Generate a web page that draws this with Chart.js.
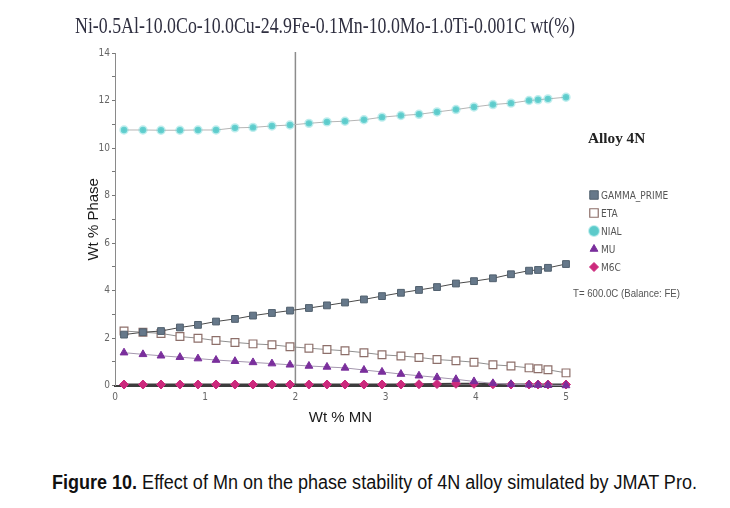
<!DOCTYPE html>
<html>
<head>
<meta charset="utf-8">
<script src="https://cdn.jsdelivr.net/npm/chart.js@4.4.1/dist/chart.umd.min.js"></script>
<style>
  html, body { margin: 0; padding: 0; background: #fff; }
  #page { position: relative; width: 730px; height: 508px; overflow: hidden; background: #fff; }
  #chart { position: absolute; left: 0; top: 0; }
  .fit { position: absolute; white-space: nowrap; transform-origin: 0 50%; line-height: 1; }
  #title { top: 13px; font: 23px 'Liberation Serif', 'Times New Roman', serif; color: #2f2f40; }
  #alloy { top: 130px; font: bold 15px 'Liberation Serif', serif; color: #222; }
  #temp { top: 287px; font: 11px 'Liberation Sans', Arial, sans-serif; color: #555; }
  #caption { top: 471px; font: 20px 'Liberation Sans', Arial, sans-serif; color: #111; }
  #caption b { font-weight: bold; }
</style>
</head>
<body>
<div id="page">
  <canvas id="chart" width="730" height="440"></canvas>
  <div id="title" class="fit">Ni-0.5Al-10.0Co-10.0Cu-24.9Fe-0.1Mn-10.0Mo-1.0Ti-0.001C wt(%)</div>
  <div id="alloy" class="fit">Alloy 4N</div>
  <div id="temp" class="fit">T= 600.0C (Balance: FE)</div>
  <div id="caption" class="fit"><b>Figure 10.</b> Effect of Mn on the phase stability of 4N alloy simulated by JMAT Pro.</div>
</div>
<script>
// Wt % Mn along the x axis
const mnWt = [0.1, 0.31, 0.51, 0.72, 0.92, 1.12, 1.33, 1.53, 1.74, 1.94, 2.15, 2.35, 2.55,
  2.76, 2.96, 3.17, 3.37, 3.57, 3.78, 3.98, 4.19, 4.39, 4.59, 4.69, 4.8, 5.0];

// Wt % of each phase
const gammaPrime = [2.15, 2.25, 2.3, 2.45, 2.56, 2.7, 2.81, 2.95, 3.06, 3.16, 3.27, 3.38, 3.5,
  3.63, 3.77, 3.91, 4.03, 4.15, 4.3, 4.4, 4.52, 4.69, 4.84, 4.87, 4.96, 5.12];
const eta = [2.3, 2.25, 2.2, 2.07, 2.0, 1.9, 1.82, 1.76, 1.72, 1.64, 1.58, 1.52, 1.47,
  1.39, 1.3, 1.25, 1.19, 1.1, 1.05, 0.99, 0.88, 0.83, 0.75, 0.71, 0.67, 0.54];
const nial = [10.76, 10.76, 10.75, 10.75, 10.76, 10.76, 10.85, 10.87, 10.93, 10.97, 11.04, 11.1, 11.13,
  11.19, 11.3, 11.37, 11.42, 11.52, 11.62, 11.73, 11.83, 11.89, 12.0, 12.03, 12.07, 12.14];
const mu = [1.39, 1.32, 1.26, 1.2, 1.14, 1.08, 1.03, 0.98, 0.93, 0.88, 0.83, 0.79, 0.75,
  0.66, 0.58, 0.49, 0.42, 0.35, 0.27, 0.18, 0.1, 0.06, 0.04, 0.03, 0.02, 0.01];
const m6c = [0.05, 0.05, 0.05, 0.05, 0.05, 0.05, 0.05, 0.05, 0.05, 0.05, 0.05, 0.05, 0.05,
  0.05, 0.05, 0.05, 0.06, 0.07, 0.08, 0.08, 0.06, 0.05, 0.05, 0.05, 0.05, 0.05];

const phaseNames = ['GAMMA_PRIME', 'ETA', 'NIAL', 'MU', 'M6C'];
const xTicks = [0, 1, 2, 3, 4, 5];
const yMax = 14;
const MARKER_MN = 2;

const TICK_FONT = { family: '"Liberation Sans Narrow", "DejaVu Sans Condensed", sans-serif', size: 10 };

function pts(arr) {
  return mnWt.map((x, i) => ({ x, y: arr[i] }));
}

function fitText(id, left, width) {
  const el = document.getElementById(id);
  el.style.left = left + 'px';
  el.style.transform = `scaleX(${width / el.offsetWidth})`;
}

fitText('title', 75, 500);
fitText('alloy', 588, 57);
fitText('temp', 573, 107);
fitText('caption', 52, 645);

const markerLine = {
  id: 'markerLine',
  beforeDatasetsDraw(chart) {
    const { ctx, scales: { x, y } } = chart;
    const px = x.getPixelForValue(MARKER_MN);
    ctx.save();
    ctx.strokeStyle = '#8c8c8c';
    ctx.lineWidth = 1.5;
    ctx.beginPath();
    ctx.moveTo(px, y.getPixelForValue(yMax) - 1);
    ctx.lineTo(px, y.bottom);
    ctx.stroke();
    ctx.restore();
  }
};

const sideLegend = {
  id: 'sideLegend',
  afterDraw(chart) {
    const { ctx } = chart;
    ctx.save();
    ctx.font = '10px "Liberation Sans Narrow", "DejaVu Sans Condensed", sans-serif';
    ctx.textBaseline = 'middle';
    chart.data.datasets.forEach((ds, i) => {
      const y = 195 + i * 18;
      ctx.fillStyle = ds.pointBackgroundColor;
      ctx.strokeStyle = ds.pointBorderColor;
      ctx.lineWidth = ds.legendBorder;
      Chart.helpers.drawPoint(ctx, { pointStyle: ds.pointStyle, radius: ds.legendRadius, borderWidth: ds.legendBorder, rotation: 0 }, 594, y);
      ctx.fillStyle = '#555';
      ctx.fillText(ds.label, 601, y + 1);
    });
    ctx.restore();
  }
};

new Chart(document.getElementById('chart'), {
  type: 'scatter',
  data: {
    datasets: [
      {
        label: phaseNames[0], data: pts(gammaPrime), showLine: true,
        borderColor: '#4a4a4a', borderWidth: 1,
        pointStyle: 'rect', pointRadius: 4.8, pointBackgroundColor: '#66788a', pointBorderColor: '#51606e', pointBorderWidth: 1,
        legendRadius: 6, legendBorder: 1,
      },
      {
        label: phaseNames[1], data: pts(eta), showLine: true,
        borderColor: '#8f8f8f', borderWidth: 1,
        pointStyle: 'rect', pointRadius: 5.5, pointBackgroundColor: '#ffffff', pointBorderColor: '#8d6f6a', pointBorderWidth: 1.2,
        legendRadius: 6, legendBorder: 1.2,
      },
      {
        label: phaseNames[2], data: pts(nial), showLine: true,
        borderColor: '#b5b5b5', borderWidth: 1,
        pointStyle: 'circle', pointRadius: 3.2, pointBackgroundColor: '#5ccaca', pointBorderColor: 'rgba(110,215,215,0.45)', pointBorderWidth: 3,
        legendRadius: 5, legendBorder: 2,
      },
      {
        label: phaseNames[3], data: pts(mu), showLine: true,
        borderColor: '#a497ae', borderWidth: 1,
        pointStyle: 'triangle', pointRadius: 4.5, pointBackgroundColor: '#7a2f9c', pointBorderColor: '#7a2f9c', pointBorderWidth: 1,
        legendRadius: 4.5, legendBorder: 1,
      },
      {
        label: phaseNames[4], data: pts(m6c), showLine: true,
        borderColor: '#3d3d3d', borderWidth: 2,
        pointStyle: 'rectRot', pointRadius: 4.5, pointBackgroundColor: '#cc2a7d', pointBorderColor: '#cc2a7d', pointBorderWidth: 1,
        legendRadius: 4.5, legendBorder: 1,
      },
    ]
  },
  options: {
    responsive: false,
    animation: false,
    clip: false,
    layout: { padding: { left: 84.7, right: 164, top: 53, bottom: 9.3 } },
    plugins: {
      legend: { display: false },
      tooltip: { enabled: false },
    },
    scales: {
      x: {
        type: 'linear', min: 0, max: 5,
        afterFit: (s) => { s.height = 45; },
        afterBuildTicks: (s) => { s.ticks = xTicks.map((v) => ({ value: v })); },
        grid: { display: false, drawTicks: false },
        border: { display: true, color: '#3d3d3d', width: 2 },
        ticks: { color: '#666', font: TICK_FONT, padding: 6, maxRotation: 0 },
        title: { display: true, text: 'Wt % MN', color: '#1a1a1a', font: { family: '"Liberation Sans", Arial, sans-serif', size: 15 }, padding: { top: 0, bottom: 3.7 } },
      },
      y: {
        min: 0, max: yMax,
        afterFit: (s) => { s.width = 30.3; },
        grid: { display: true, drawOnChartArea: false, drawTicks: true, tickLength: 3, color: '#777' },
        border: { display: true, color: '#8a8a8a', width: 1 },
        ticks: { stepSize: 1, color: '#666', font: TICK_FONT, padding: 2, callback: (v) => (v % 2 === 0 ? v : '') },
        title: { display: true, text: 'Wt % Phase', color: '#1a1a1a', font: { family: '"Liberation Sans", Arial, sans-serif', size: 15 }, padding: { top: 0, bottom: 0 } },
      },
    },
  },
  plugins: [markerLine, sideLegend],
});
</script>
</body>
</html>
